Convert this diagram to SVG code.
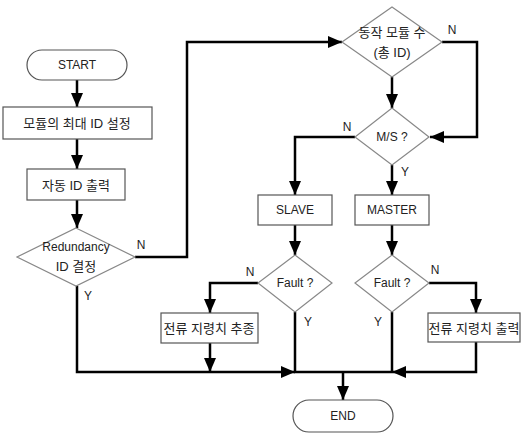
<svg xmlns="http://www.w3.org/2000/svg" width="522" height="434" viewBox="0 0 522 434">
<defs>
<marker id="ah" viewBox="0 0 14 12" refX="14" refY="6" markerWidth="14" markerHeight="12" markerUnits="userSpaceOnUse" orient="auto">
<path d="M0,0 L14,6 L0,12 z" fill="#000"/>
</marker>
</defs>
<style>
.box{fill:#fff;stroke:#555;stroke-width:1.2}
.dia{fill:#fff;stroke:#888;stroke-width:1.2}
.t{font-family:"Liberation Sans","Noto Sans CJK KR",sans-serif;font-size:12px;fill:#222;text-anchor:middle;dominant-baseline:central}
.k{font-size:13px}
.l{font-family:"Liberation Sans",sans-serif;font-size:12px;fill:#222;text-anchor:middle;dominant-baseline:central}
.c{fill:none;stroke:#000;stroke-width:2.5}
.a{marker-end:url(#ah)}
</style>
<rect width="522" height="434" fill="#fff"/>
<g id="connectors">
<path class="c a" d="M77,80 V107"/>
<path class="c a" d="M77,139 V169"/>
<path class="c a" d="M77,200 V228"/>
<path class="c a" d="M135,257 H187 V42 H342"/>
<path class="c a" d="M77,286 V372 H295"/>
<path class="c a" d="M392,77 V108"/>
<path class="c a" d="M442,42 H477 V137 H430"/>
<path class="c a" d="M355,137 H295 V195"/>
<path class="c a" d="M392,165 V195"/>
<path class="c a" d="M295,225 V255"/>
<path class="c a" d="M392,225 V255"/>
<path class="c a" d="M258,283 H210 V313"/>
<path class="c a" d="M210,343 V372"/>
<path class="c" d="M295,312 V372 H392"/>
<path class="c a" d="M429,283 H476 V313"/>
<path class="c a" d="M476,342 V372 H392"/>
<path class="c" d="M392,312 V372"/>
<path class="c a" d="M343,372 V400"/>
</g>
<g id="start"><rect class="box" x="27" y="50" width="100" height="30" rx="15"/><text class="t" x="77" y="65">START</text></g>
<g id="setMaxId"><rect class="box" x="3" y="107" width="149" height="32"/><text class="t k" x="77" y="123">모듈의 최대 ID 설정</text></g>
<g id="autoId"><rect class="box" x="27" y="169" width="98" height="31"/><text class="t k" x="76" y="185">자동 ID 출력</text></g>
<g id="redundancy"><polygon class="dia" points="76,228 135,257 76,286 17,257"/><text class="t" x="76" y="247">Redundancy</text><text class="t k" x="76" y="266">ID 결정</text></g>
<g id="moduleCount"><polygon class="dia" points="392,7 442,42 392,77 342,42"/><text class="t k" x="392" y="32">동작 모듈 수</text><text class="t k" x="392" y="52">(총 ID)</text></g>
<g id="ms"><polygon class="dia" points="392,108 429,137 392,165 355,137"/><text class="t" x="392" y="137">M/S ?</text></g>
<g id="slave"><rect class="box" x="258" y="195" width="74" height="30"/><text class="t" x="295" y="210">SLAVE</text></g>
<g id="master"><rect class="box" x="355" y="195" width="74" height="30"/><text class="t" x="392" y="210">MASTER</text></g>
<g id="faultSlave"><polygon class="dia" points="295,255 332,283 295,312 258,283"/><text class="t" x="295" y="283">Fault ?</text></g>
<g id="faultMaster"><polygon class="dia" points="392,255 429,283 392,312 355,283"/><text class="t" x="392" y="283">Fault ?</text></g>
<g id="follow"><rect class="box" x="161" y="313" width="97" height="30"/><text class="t k" x="209" y="328">전류 지령치 추종</text></g>
<g id="output"><rect class="box" x="428" y="313" width="92" height="29"/><text class="t k" x="474" y="328">전류 지령치 출력</text></g>
<g id="end"><rect class="box" x="293" y="400" width="100" height="32" rx="16"/><text class="t" x="343" y="416">END</text></g>
<g id="labels">
<text class="l" x="141" y="245">N</text>
<text class="l" x="88" y="296">Y</text>
<text class="l" x="452" y="30">N</text>
<text class="l" x="347" y="127">N</text>
<text class="l" x="405" y="172">Y</text>
<text class="l" x="250" y="272">N</text>
<text class="l" x="308" y="322">Y</text>
<text class="l" x="435" y="270">N</text>
<text class="l" x="378" y="322">Y</text>
</g>
</svg>
